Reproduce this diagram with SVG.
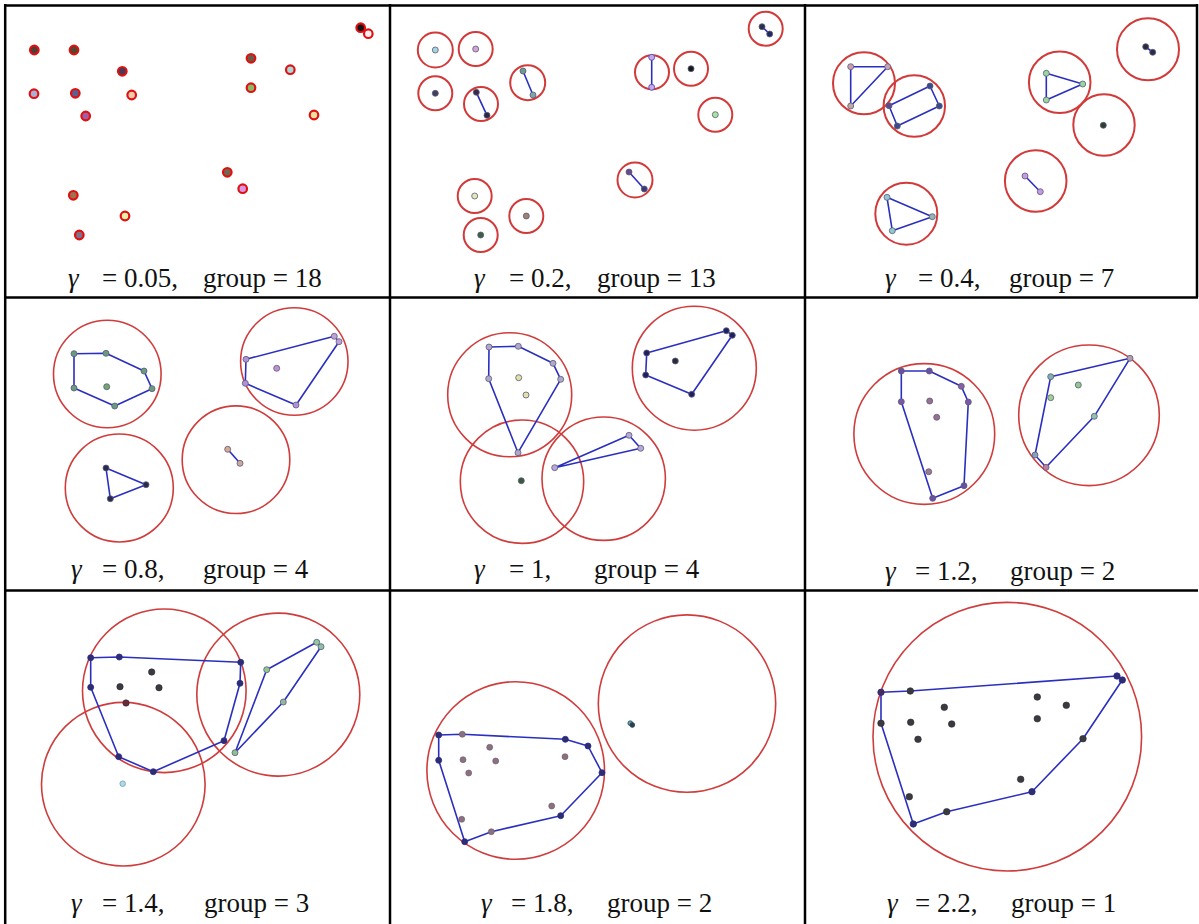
<svg xmlns="http://www.w3.org/2000/svg" width="1199" height="924" viewBox="0 0 1199 924">
<style>
.bg{fill:#ffffff}
.grid{stroke:#000;stroke-width:2.5;fill:none}
.t{font-family:"Liberation Serif","Times New Roman",serif;font-size:27px;fill:#111}
.g{font-style:italic}
.ring{stroke:#e01010;stroke-width:2.2}
.c{fill:none;stroke:#d23a3a;stroke-width:2}
.C{fill:none;stroke:#d03c3c;stroke-width:1.6}
.h{fill:none;stroke:#2b2fc0;stroke-width:1.6;stroke-linejoin:round}
.p{stroke:#5a5a7a;stroke-width:0.8}
.d{fill:#3a3a40;stroke:#2a2a30;stroke-width:0.6}
.n{fill:#2d2d70;stroke:#2a2a90;stroke-width:0.8}
</style>
<rect class="bg" x="0" y="0" width="1199" height="924"/>

<g id="panel-1">
<g class="ring">
<circle cx="34.3" cy="50" r="4.3" fill="#4e4038"/>
<circle cx="74" cy="50" r="4.3" fill="#4a4a30"/>
<circle cx="122.3" cy="71.3" r="4.3" fill="#4a3a5a"/>
<circle cx="251" cy="58.3" r="4.3" fill="#6a5a48"/>
<circle cx="290.3" cy="69.7" r="4.3" fill="#a8d8d8"/>
<circle cx="360.7" cy="27.7" r="4.3" fill="#151515"/>
<circle cx="368.3" cy="33.7" r="4.3" fill="#fff0f4"/>
<circle cx="34" cy="93.7" r="4.3" fill="#a8b0d8"/>
<circle cx="75.3" cy="93.3" r="4.3" fill="#5a6090"/>
<circle cx="131.7" cy="95" r="4.3" fill="#f4c8a8"/>
<circle cx="251" cy="87.7" r="4.3" fill="#88b868"/>
<circle cx="85.7" cy="116" r="4.3" fill="#a060a8"/>
<circle cx="314" cy="115" r="4.3" fill="#f0e0a0"/>
<circle cx="227.3" cy="172.3" r="4.3" fill="#6e6a50"/>
<circle cx="242.7" cy="188.7" r="4.3" fill="#d898e8"/>
<circle cx="73.3" cy="195.3" r="4.3" fill="#a07050"/>
<circle cx="125" cy="216" r="4.3" fill="#e8f0a8"/>
<circle cx="79.3" cy="235" r="4.3" fill="#807088"/>
</g>
<text class="t" y="287"><tspan class="g" x="68">γ</tspan><tspan x="102">= 0.05,</tspan><tspan x="203">group = 18</tspan></text>
</g>

<g id="panel-2">
<circle class="c" cx="435.3" cy="50" r="17.5"/>
<circle class="c" cx="475.7" cy="49" r="17"/>
<circle class="c" cx="435.3" cy="93.3" r="17"/>
<circle class="c" cx="481" cy="104" r="17"/>
<circle class="c" cx="527.7" cy="82.7" r="17.5"/>
<circle class="c" cx="652" cy="72.3" r="17"/>
<circle class="c" cx="691" cy="68.7" r="17"/>
<circle class="c" cx="715.3" cy="114.7" r="17"/>
<circle class="c" cx="765.7" cy="28.7" r="17"/>
<circle class="c" cx="635" cy="180" r="17.5"/>
<circle class="c" cx="474.7" cy="196" r="17"/>
<circle class="c" cx="526.3" cy="216" r="17"/>
<circle class="c" cx="480.7" cy="235" r="17"/>
<line class="h" x1="476.3" y1="92.3" x2="487" y2="115.3"/>
<line class="h" x1="523" y1="71" x2="533" y2="95"/>
<line class="h" x1="651.7" y1="57.3" x2="651.7" y2="87.3"/>
<line class="h" x1="762" y1="26.7" x2="769.7" y2="34"/>
<line class="h" x1="629" y1="172" x2="644.3" y2="189"/>
<g class="p">
<circle cx="435.3" cy="50" r="3" fill="#a8d4dc"/>
<circle cx="475.7" cy="49" r="3" fill="#d4a4d4"/>
<circle cx="435.3" cy="93.3" r="3" fill="#40405e"/>
<circle cx="476.3" cy="92.3" r="3" fill="#3a2a4a"/>
<circle cx="487" cy="115.3" r="3" fill="#2a2a40"/>
<circle cx="523" cy="71" r="3" fill="#6a9a90"/>
<circle cx="533" cy="95" r="3" fill="#7aa8a8"/>
<circle cx="651.7" cy="57.3" r="3" fill="#c8a8e0" stroke="#4040c0"/>
<circle cx="651.7" cy="87.3" r="3" fill="#c8a8e0" stroke="#4040c0"/>
<circle cx="691" cy="68.7" r="3" fill="#181818"/>
<circle cx="715.3" cy="114.7" r="3" fill="#a8e4a0"/>
<circle cx="762" cy="26.7" r="3" fill="#283050"/>
<circle cx="769.7" cy="34" r="3" fill="#1e2a5a"/>
<circle cx="629" cy="172" r="3" fill="#6a4a8a"/>
<circle cx="644.3" cy="189" r="3" fill="#3a3a7a"/>
<circle cx="474.7" cy="196" r="3" fill="#e4e8b8"/>
<circle cx="526.3" cy="216" r="3" fill="#a08070"/>
<circle cx="480.7" cy="235" r="3" fill="#3e603e"/>
</g>
<text class="t" y="287"><tspan class="g" x="474">γ</tspan><tspan x="509">= 0.2,</tspan><tspan x="597">group = 13</tspan></text>
</g>

<g id="panel-3">
<circle class="c" cx="864" cy="83.3" r="31"/>
<circle class="c" cx="914.3" cy="106" r="30.7"/>
<circle class="c" cx="1059.7" cy="82.3" r="30.8"/>
<circle class="c" cx="1148" cy="49.3" r="31"/>
<circle class="c" cx="1104" cy="125" r="30.7"/>
<circle class="c" cx="1035.7" cy="181" r="30.8"/>
<circle class="c" cx="906.3" cy="213.7" r="31"/>
<polygon class="h" points="850.7,66.7 887.7,66.7 850.7,106"/>
<polygon class="h" points="889,105.7 930,86 939.3,106 897.3,126"/>
<polygon class="h" points="1046.3,73.3 1082.7,84 1046.3,100"/>
<line class="h" x1="1025" y1="176" x2="1040.3" y2="191.7"/>
<line class="h" x1="1145.7" y1="46.7" x2="1152.7" y2="52.3"/>
<polygon class="h" points="887,197.3 932.3,216.7 892.3,230.7"/>
<g class="p">
<circle cx="850.7" cy="66.7" r="3" fill="#c8a0b0"/>
<circle cx="887.7" cy="66.7" r="3" fill="#c8a0b8"/>
<circle cx="850.7" cy="106" r="3" fill="#c0a8a0"/>
<circle cx="889" cy="105.7" r="3" fill="#5a4a8a"/>
<circle cx="930" cy="86" r="3" fill="#3a4a8a"/>
<circle cx="939.3" cy="106" r="3" fill="#3a4a8a"/>
<circle cx="897.3" cy="126" r="3" fill="#3a4a8a"/>
<circle cx="1046.3" cy="73.3" r="3" fill="#98d8a0"/>
<circle cx="1082.7" cy="84" r="3" fill="#98d8a0"/>
<circle cx="1046.3" cy="100" r="3" fill="#98d8a0"/>
<circle cx="1145.7" cy="46.7" r="3" fill="#2a2a40"/>
<circle cx="1152.7" cy="52.3" r="3" fill="#2a2a4a"/>
<circle cx="1103.3" cy="125.3" r="3" fill="#2e3e2e"/>
<circle cx="1025" cy="176" r="3" fill="#c898e0"/>
<circle cx="1040.3" cy="191.7" r="3" fill="#c898e0"/>
<circle cx="887" cy="197.3" r="3" fill="#90c8d0"/>
<circle cx="932.3" cy="216.7" r="3" fill="#90b8b0"/>
<circle cx="892.3" cy="230.7" r="3" fill="#90c8d0"/>
</g>
<text class="t" y="287"><tspan class="g" x="885">γ</tspan><tspan x="918">= 0.4,</tspan><tspan x="1009">group = 7</tspan></text>
</g>

<g id="panel-4">
<circle class="C" cx="107.3" cy="374" r="53.8"/>
<circle class="C" cx="294.3" cy="361.5" r="53.7"/>
<circle class="C" cx="119.3" cy="488" r="54"/>
<circle class="C" cx="236" cy="459.7" r="53.8"/>
<polygon class="h" points="74,353.7 106,353.3 144,371 152,388.7 114.7,406 74,388"/>
<polygon class="h" points="246,359.3 334.3,336.3 339,341.7 296,405 245.3,383.3"/>
<polygon class="h" points="106,468 146,484.7 110.3,498.7"/>
<line class="h" x1="227.7" y1="449.3" x2="240" y2="463.3"/>
<g class="p">
<circle cx="74" cy="353.7" r="3" fill="#6a9a80"/>
<circle cx="106" cy="353.3" r="3" fill="#6a9a80"/>
<circle cx="144" cy="371" r="3" fill="#6a9a80"/>
<circle cx="152" cy="388.7" r="3" fill="#6a9a80"/>
<circle cx="114.7" cy="406" r="3" fill="#6a9a80"/>
<circle cx="74" cy="388" r="3" fill="#6a9a80"/>
<circle cx="106.7" cy="386.7" r="3" fill="#70a870"/>
<circle cx="246" cy="359.3" r="3" fill="#b090d8"/>
<circle cx="334.3" cy="336.3" r="3" fill="#c0a0d8"/>
<circle cx="339" cy="341.7" r="3" fill="#c0a0d8"/>
<circle cx="296" cy="405" r="3" fill="#b090d8"/>
<circle cx="245.3" cy="383.3" r="3" fill="#b090d8"/>
<circle cx="276.7" cy="368.3" r="3" fill="#c090d0"/>
<circle cx="106" cy="468" r="3" fill="#2a2a50"/>
<circle cx="146" cy="484.7" r="3" fill="#2a2a50"/>
<circle cx="110.3" cy="498.7" r="3" fill="#2a2a50"/>
<circle cx="227.7" cy="449.3" r="3" fill="#d8a890"/>
<circle cx="240" cy="463.3" r="3" fill="#d0a898"/>
</g>
<text class="t" y="578"><tspan class="g" x="71">γ</tspan><tspan x="102">= 0.8,</tspan><tspan x="203">group = 4</tspan></text>
</g>

<g id="panel-5">
<circle class="C" cx="509.7" cy="394.8" r="62"/>
<circle class="C" cx="522" cy="481.7" r="61.7"/>
<circle class="C" cx="603.7" cy="478.7" r="61.7"/>
<circle class="C" cx="694.3" cy="368.2" r="62"/>
<polygon class="h" points="489,347 518.3,346.3 553,363.3 560.7,379.3 518,452.7 488.7,378.7"/>
<polygon class="h" points="554.7,467.7 629,435.3 640.7,448.3"/>
<polygon class="h" points="646.7,353 726.3,330.7 732.3,335.3 691.7,394.3 645.7,375"/>
<g class="p">
<circle cx="489" cy="347" r="3" fill="#b0a8c8"/>
<circle cx="518.3" cy="346.3" r="3" fill="#b0a8c8"/>
<circle cx="553" cy="363.3" r="3" fill="#b0a8c8"/>
<circle cx="560.7" cy="379.3" r="3" fill="#b0a8c8"/>
<circle cx="518" cy="452.7" r="3" fill="#b0a8c8"/>
<circle cx="488.7" cy="378.7" r="3" fill="#b0a8c8"/>
<circle cx="518.7" cy="377.7" r="3" fill="#e4e0a8"/>
<circle cx="526" cy="395" r="3" fill="#e4e0a8"/>
<circle cx="521.3" cy="480.7" r="3" fill="#3a5a3a"/>
<circle cx="554.7" cy="467.7" r="3" fill="#b8a8d8"/>
<circle cx="629" cy="435.3" r="3" fill="#b8a8d8"/>
<circle cx="640.7" cy="448.3" r="3" fill="#b8a8d8"/>
<circle cx="646.7" cy="353" r="3" fill="#202060"/>
<circle cx="726.3" cy="330.7" r="3" fill="#202060"/>
<circle cx="732.3" cy="335.3" r="3" fill="#202060"/>
<circle cx="691.7" cy="394.3" r="3" fill="#202060"/>
<circle cx="645.7" cy="375" r="3" fill="#202060"/>
<circle cx="675.3" cy="361" r="3" fill="#2a2a3a"/>
</g>
<text class="t" y="578"><tspan class="g" x="474">γ</tspan><tspan x="509">= 1,</tspan><tspan x="594">group = 4</tspan></text>
</g>

<g id="panel-6">
<circle class="C" cx="924.3" cy="434" r="70.4"/>
<circle class="C" cx="1089" cy="415.3" r="70.3"/>
<polygon class="h" points="901.3,371 929.3,371 961.3,386.3 968.3,402 964,485.7 932.7,498.3 901.3,401.7"/>
<polygon class="h" points="1050.7,376.7 1130,358.3 1094.3,416.3 1046,467.3 1035,455"/>
<g class="p">
<circle cx="901.3" cy="371" r="3" fill="#6a50a0"/>
<circle cx="929.3" cy="371" r="3" fill="#6a50a0"/>
<circle cx="961.3" cy="386.3" r="3" fill="#8a60a0"/>
<circle cx="968.3" cy="402" r="3" fill="#7a58a8"/>
<circle cx="964" cy="485.7" r="3" fill="#6a50a0"/>
<circle cx="932.7" cy="498.3" r="3" fill="#6a50a0"/>
<circle cx="901.3" cy="401.7" r="3" fill="#7a58a8"/>
<circle cx="929.7" cy="401" r="3" fill="#9a7090"/>
<circle cx="936.7" cy="417.3" r="3" fill="#9a7090"/>
<circle cx="928.7" cy="471.7" r="3" fill="#a07890"/>
<circle cx="1050.7" cy="376.7" r="3" fill="#80b0b0"/>
<circle cx="1130" cy="358.3" r="3" fill="#b0a0b0"/>
<circle cx="1094.3" cy="416.3" r="3" fill="#90c0b0"/>
<circle cx="1046" cy="467.3" r="3" fill="#c080a0"/>
<circle cx="1035" cy="455" r="3" fill="#80a0c0"/>
<circle cx="1078.3" cy="385" r="3" fill="#90c890"/>
<circle cx="1050.7" cy="397.7" r="3" fill="#a0d090"/>
</g>
<text class="t" y="580"><tspan class="g" x="885">γ</tspan><tspan x="915">= 1.2,</tspan><tspan x="1010">group = 2</tspan></text>
</g>

<g id="panel-7">
<circle class="C" cx="164.3" cy="690.8" r="81.8"/>
<circle class="C" cx="123.3" cy="784.2" r="81.8"/>
<circle class="C" cx="278.3" cy="694.6" r="81.5"/>
<polygon class="h" points="90.7,657.7 119.3,657 240.7,662.3 240,683.3 224,740.7 153.3,771.7 118.7,756.7 90.7,687.3"/>
<polygon class="h" points="235,752.7 266.7,669.7 316.7,642.3 321,646.7 283.3,702"/>
<g class="n">
<circle cx="90.7" cy="657.7" r="3"/>
<circle cx="119.3" cy="657" r="3"/>
<circle cx="240.7" cy="662.3" r="3"/>
<circle cx="240" cy="683.3" r="3"/>
<circle cx="224" cy="740.7" r="3"/>
<circle cx="153.3" cy="771.7" r="3"/>
<circle cx="118.7" cy="756.7" r="3"/>
<circle cx="90.7" cy="687.3" r="3"/>
</g>
<g class="d">
<circle cx="151.7" cy="672" r="3.2"/>
<circle cx="120" cy="686.7" r="3.2"/>
<circle cx="159" cy="687.7" r="3.2"/>
<circle cx="126" cy="703" r="3.2" fill="#6a2a3a"/>
</g>
<g class="p">
<circle cx="235" cy="752.7" r="3" fill="#90c090"/>
<circle cx="266.7" cy="669.7" r="3" fill="#90c890"/>
<circle cx="316.7" cy="642.3" r="3" fill="#90c8a0"/>
<circle cx="321" cy="646.7" r="3" fill="#90c0a0"/>
<circle cx="283.3" cy="702" r="3" fill="#90b8a0"/>
<circle cx="122.7" cy="783.7" r="2.8" fill="#b0d8e8" stroke="#70a0b8"/>
</g>
<text class="t" y="912"><tspan class="g" x="71">γ</tspan><tspan x="102">= 1.4,</tspan><tspan x="204">group = 3</tspan></text>
</g>

<g id="panel-8">
<circle class="C" cx="515.7" cy="770.5" r="88.8"/>
<circle class="C" cx="687" cy="703.6" r="88.7"/>
<polygon class="h" points="438.7,735 462.3,734.3 565.3,739.3 588,746 602,772.7 560.7,815.7 491.3,831.7 464.7,841.7 438.7,760.3"/>
<g class="n">
<circle cx="438.7" cy="735" r="3"/>
<circle cx="565.3" cy="739.3" r="3"/>
<circle cx="588" cy="746" r="3"/>
<circle cx="602" cy="772.7" r="3"/>
<circle cx="560.7" cy="815.7" r="3"/>
<circle cx="464.7" cy="841.7" r="3"/>
<circle cx="438.7" cy="760.3" r="3"/>
</g>
<g class="d" style="fill:#8a7080;stroke:#6a5a6a">
<circle cx="462.3" cy="734.3" r="3"/>
<circle cx="489.7" cy="747.3" r="3"/>
<circle cx="463" cy="759.7" r="3"/>
<circle cx="495.7" cy="761" r="3"/>
<circle cx="468.7" cy="773" r="3"/>
<circle cx="565" cy="756.7" r="3"/>
<circle cx="551.7" cy="806" r="3"/>
<circle cx="461.7" cy="819.3" r="3"/>
<circle cx="491.3" cy="831.7" r="3"/>
</g>
<g class="p">
<circle cx="630.3" cy="723.2" r="2.4" fill="#6aa0a8" stroke="#2a4a5a"/>
<circle cx="632.3" cy="725" r="2.4" fill="#2a4050" stroke="#2a4a5a"/>
</g>
<text class="t" y="912"><tspan class="g" x="481">γ</tspan><tspan x="511">= 1.8,</tspan><tspan x="607">group = 2</tspan></text>
</g>

<g id="panel-9">
<circle class="C" cx="1007.3" cy="736.7" r="134.3"/>
<polygon class="h" points="881,692.3 910.3,691 1117,676 1122.3,680 1083,738.7 1032,791.7 946.7,811.7 913.3,824 881,723.3"/>
<g class="n">
<circle cx="881" cy="692.3" r="3.2" fill="#4a2a5a"/>
<circle cx="1117" cy="676" r="3.2"/>
<circle cx="1122.3" cy="680" r="3.2"/>
<circle cx="1032" cy="791.7" r="3.2"/>
<circle cx="913.3" cy="824" r="3.2"/>
</g>
<g class="d">
<circle cx="910.3" cy="691" r="3.3"/>
<circle cx="1083" cy="738.7" r="3.3"/>
<circle cx="946.7" cy="811.7" r="3.3"/>
<circle cx="881" cy="723.3" r="3.3"/>
<circle cx="944.3" cy="707.3" r="3.3"/>
<circle cx="1037.3" cy="697" r="3.3"/>
<circle cx="1066.3" cy="705.3" r="3.3"/>
<circle cx="910.7" cy="722.3" r="3.3"/>
<circle cx="951.7" cy="724" r="3.3"/>
<circle cx="1037.3" cy="718.7" r="3.3"/>
<circle cx="918" cy="739.3" r="3.3"/>
<circle cx="1020.7" cy="779.3" r="3.3"/>
<circle cx="909.3" cy="796.7" r="3.3"/>
</g>
<text class="t" y="912"><tspan class="g" x="887">γ</tspan><tspan x="915">= 2.2,</tspan><tspan x="1011">group = 1</tspan></text>
</g>

<g id="grid" class="grid">
<line x1="4" y1="5.5" x2="1198" y2="5.5"/>
<line x1="4" y1="297.5" x2="1198" y2="297.5"/>
<line x1="4" y1="590.5" x2="1198" y2="590.5"/>
<line x1="5.2" y1="4" x2="5.2" y2="924"/>
<line x1="390" y1="4" x2="390" y2="924"/>
<line x1="805" y1="4" x2="805" y2="924"/>
<line x1="1197" y1="4" x2="1197" y2="297.5"/>
</g>
</svg>
